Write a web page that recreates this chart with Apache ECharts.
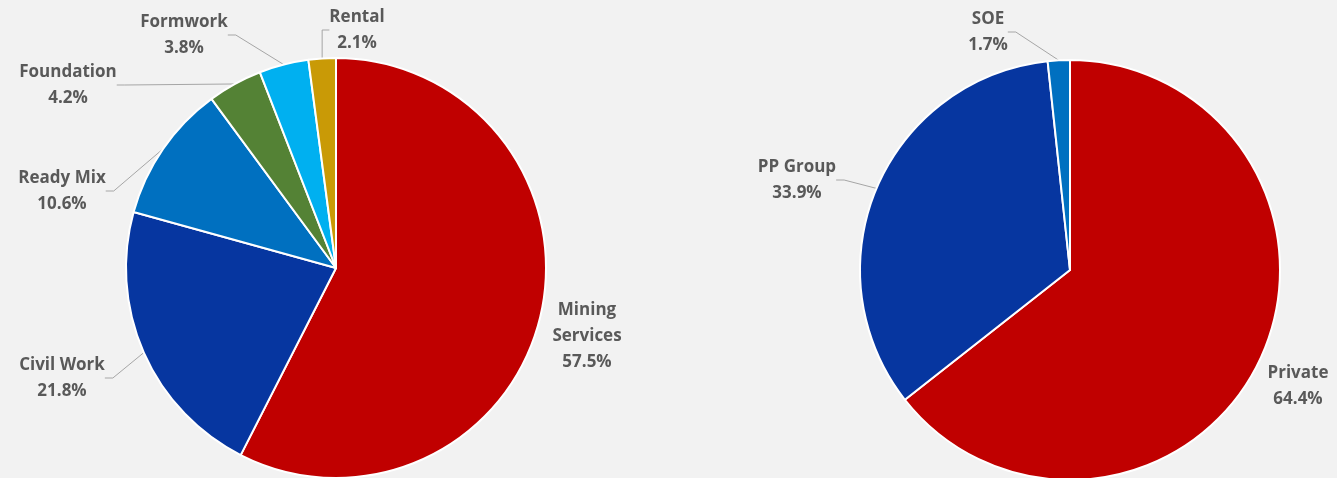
<!DOCTYPE html>
<html>
<head>
<meta charset="utf-8">
<script src="https://cdn.jsdelivr.net/npm/echarts@6/dist/echarts.min.js"></script>
<style>
html,body{margin:0;padding:0;background:#F2F2F2;}
#c{width:1337px;height:478px;}
</style>
</head>
<body>
<div id="c"></div>
<script>
// ---- data ----
const segCategories = ['Mining Services', 'Civil Work', 'Ready Mix', 'Foundation', 'Formwork', 'Rental'];
const segValues = [57.5, 21.8, 10.6, 4.2, 3.8, 2.1];
const custCategories = ['Private', 'PP Group', 'SOE'];
const custValues = [64.4, 33.9, 1.7];

// ---- styling / layout ----
const segColors = ['#C00000', '#0636A0', '#0070C0', '#548235', '#00B0F0', '#C99A06'];
const custColors = ['#C00000', '#0636A0', '#0070C0'];
const segLabelPos = [[587, 336], [62, 378], [62, 191], [68, 85], [184, 35], [357, 30]];
const custLabelPos = [[1298, 386], [797, 180], [988, 32]];
const noLine = {'Mining Services': true, 'Private': true};

const chart = echarts.init(document.getElementById('c'), null, {renderer: 'canvas'});

function mkData(cats, vals, colors) {
  return cats.map((c, i) => ({
    name: c, value: vals[i],
    itemStyle: {color: colors[i]},
    labelLine: {show: !noLine[c]}
  }));
}
function fmt(p) {
  const n = p.name === 'Mining Services' ? 'Mining\nServices' : p.name;
  return n + '\n' + p.value.toFixed(1) + '%';
}
function mkSeries(cats, vals, colors, center, radius, pos) {
  return {
    type: 'pie',
    center: center,
    radius: radius,
    startAngle: 90,
    clockwise: true,
    animation: false,
    data: mkData(cats, vals, colors),
    itemStyle: {borderColor: '#FFFFFF', borderWidth: 2},
    label: {
      show: true, position: 'outside', formatter: fmt,
      color: '#595959', fontFamily: 'Open Sans', fontWeight: 'bold',
      fontSize: 17, lineHeight: 26, align: 'center', overflow: 'none'
    },
    labelLine: {show: true, lineStyle: {color: '#A6A6A6', width: 1}, length: 10, length2: 8},
    labelLayout: function (params) {
      const p = pos[params.dataIndex];
      return {x: p[0], y: p[1], align: 'center', verticalAlign: 'middle'};
    }
  };
}

chart.setOption({
  backgroundColor: '#F2F2F2',
  series: [
    mkSeries(segCategories, segValues, segColors, [336, 268], 210, segLabelPos),
    mkSeries(custCategories, custValues, custColors, [1070, 270], 210, custLabelPos)
  ]
});
</script>
</body>
</html>
